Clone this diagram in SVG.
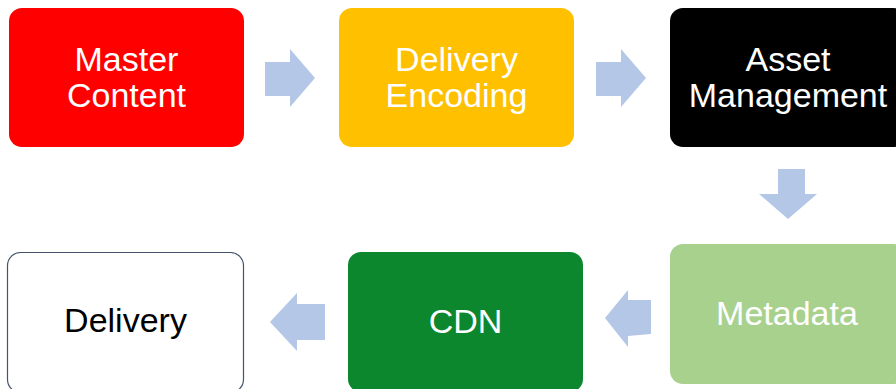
<svg xmlns="http://www.w3.org/2000/svg" width="896" height="389" viewBox="0 0 896 389">
<style>
.lbl{font-family:"Liberation Sans",Arial,sans-serif;font-size:34px;text-anchor:middle;}
.w{fill:#FFFFFF;}
.k{fill:#000000;}
.arr{fill:#B4C7E7;}
</style>
<rect width="896" height="389" fill="#FFFFFF"/>
<g id="connectors">
<polygon class="arr" points="265,62 290,62 290,49 315,78 290,107 290,96 265,96"/>
<polygon class="arr" points="596,62 621,62 621,49 646,78 621,107 621,96 596,96"/>
<polygon class="arr" points="778,169 805,169 805,194 817,194 788,219 759,194 778,194"/>
<polygon class="arr" points="651,300 628,300 628,290 605,318 628,347 628,336 651,334"/>
<polygon class="arr" points="325,304 297,304 297,293 270,322 297,351 297,340 325,340"/>
</g>
<g id="master-content">
<rect x="9" y="8" width="235" height="139" rx="13" fill="#FF0000"/>
<text class="lbl w" x="126.5" y="71">Master</text>
<text class="lbl w" x="126.5" y="107">Content</text>
</g>
<g id="delivery-encoding">
<rect x="339" y="8" width="235" height="139" rx="13" fill="#FFC000"/>
<text class="lbl w" x="456.5" y="71">Delivery</text>
<text class="lbl w" x="456.5" y="107">Encoding</text>
</g>
<g id="asset-management">
<rect x="670" y="8" width="236" height="139" rx="13" fill="#000000"/>
<text class="lbl w" x="788" y="71">Asset</text>
<text class="lbl w" x="788" y="107">Management</text>
</g>
<g id="metadata">
<rect x="670" y="244" width="236" height="140" rx="13" fill="#A9D18E"/>
<text class="lbl w" x="787" y="325">Metadata</text>
</g>
<g id="cdn">
<rect x="348" y="252" width="235" height="140" rx="13" fill="#0C872E"/>
<text class="lbl w" x="465.5" y="333">CDN</text>
</g>
<g id="delivery">
<rect x="7.5" y="252.5" width="236" height="140" rx="13" fill="#FFFFFF" stroke="#44546A" stroke-width="1.2"/>
<text class="lbl k" x="125.5" y="332">Delivery</text>
</g>
</svg>
